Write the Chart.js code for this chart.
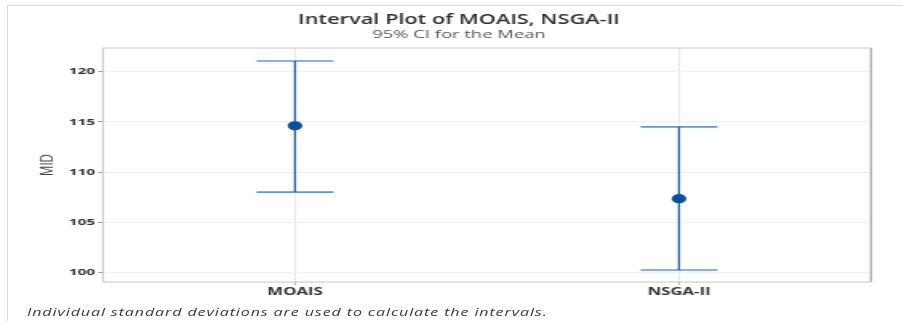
<!DOCTYPE html>
<html>
<head>
<meta charset="utf-8">
<script src="https://cdn.jsdelivr.net/npm/chart.js@4/dist/chart.umd.min.js"></script>
<style>
  html, body { margin: 0; padding: 0; background: #fff; }
  #wrap { position: relative; width: 903px; height: 321px; overflow: hidden; background: #fff; }
  #frame { position: absolute; left: 7px; top: 5px; width: 920px; height: 340px; border: 1px solid #dcdcdc; box-sizing: border-box; }
  #chart { position: absolute; left: 0; top: 0; transform: scaleX(1.6); transform-origin: 0 0; }
  #note { position: absolute; left: 27px; top: 304px; font: italic 11px "Open Sans", sans-serif; color: #3a3a3a;
          letter-spacing: 0.6px; white-space: nowrap; transform: scaleX(1.46); transform-origin: 0 0; }
</style>
</head>
<body>
<div id="wrap">
  <div id="frame"></div>
  <canvas id="chart" width="564" height="321"></canvas>
  <div id="note">Individual standard deviations are used to calculate the intervals.</div>
</div>
<script>
// Interval plot: mean and 95% confidence interval of MID for each method
const CATEGORIES = ['MOAIS', 'NSGA-II'];
const MEANS = [114.6, 107.35];
const LOWER = [108.0, 100.25];
const UPPER = [121.05, 114.5];
const Y_MIN = 99.05, Y_MAX = 122.35, Y_STEP = 5;

const CAP_HALF = 0.1;          // cap half-width in category units
const STEM = '#1f5aa6';
const CAP = '#6397ce';
const MEAN_FILL = '#0b4f9f';
const TITLE_SHIFT = 9.7;       // nudge titles to sit over the plot

const datasets = [];
CATEGORIES.forEach((c, i) => {
  [LOWER[i], UPPER[i]].forEach(v => datasets.push({
    data: [{x: i - CAP_HALF, y: v}, {x: i + CAP_HALF, y: v}],
    showLine: true, borderColor: CAP, borderWidth: 1.6, pointRadius: 0, order: 3
  }));
  datasets.push({
    data: [{x: i, y: LOWER[i]}, {x: i, y: UPPER[i]}],
    showLine: true, borderColor: STEM, borderWidth: 1.3, pointRadius: 0, order: 2
  });
});
datasets.push({
  data: CATEGORIES.map((c, i) => ({x: i, y: MEANS[i]})),
  showLine: false, pointRadius: 4.6, pointBackgroundColor: MEAN_FILL, pointBorderColor: MEAN_FILL,
  pointBorderWidth: 0, order: 1
});

const plotFrame = {
  id: 'plotFrame',
  afterLayout(chart) {
    chart.boxes.filter(b => b.position === 'top' && b.axis === undefined)
      .forEach(b => { b.left += TITLE_SHIFT; b.right += TITLE_SHIFT; });
  },
  beforeDatasetsDraw(chart) {
    const {ctx, chartArea: a} = chart;
    ctx.save();
    ctx.strokeStyle = '#c4c4c4';
    ctx.lineWidth = 1;
    ctx.beginPath();
    ctx.moveTo(a.left, a.bottom); ctx.lineTo(a.left, a.top); ctx.lineTo(a.right, a.top);
    ctx.moveTo(a.left, a.bottom); ctx.lineTo(a.right, a.bottom);
    ctx.stroke();
    ctx.strokeStyle = '#a8a8a8';
    ctx.lineWidth = 1.3;
    ctx.beginPath();
    ctx.moveTo(a.right, a.top); ctx.lineTo(a.right, a.bottom);
    ctx.stroke();
    ctx.restore();
  }
};

new Chart(document.getElementById('chart'), {
  type: 'scatter',
  data: { datasets },
  plugins: [plotFrame],
  options: {
    responsive: false,
    animation: false,
    events: [],
    layout: { padding: { top: 13, left: 10, right: 19.6, bottom: 0 } },
    plugins: {
      legend: { display: false },
      tooltip: { enabled: false },
      title: {
        display: true, text: 'Interval Plot of MOAIS, NSGA-II', color: '#2e2e2e',
        font: { family: 'Open Sans', size: 13.6, weight: '600', lineHeight: 1.1 },
        padding: { top: 0, bottom: 0 }
      },
      subtitle: {
        display: true, text: '95% CI for the Mean', color: '#555',
        font: { family: 'Open Sans', size: 11.5, weight: 'normal', lineHeight: 1.1 },
        padding: { top: 0, bottom: 7.4 }
      }
    },
    scales: {
      x: {
        type: 'linear', min: -0.5, max: 1.5,
        afterBuildTicks: s => { s.ticks = CATEGORIES.map((c, i) => ({ value: i })); },
        afterFit: s => { s.height = 39; },
        ticks: {
          callback: v => CATEGORIES[v], color: '#333', padding: 1, maxRotation: 0,
          font: { family: 'Open Sans', size: 10.5, weight: 'bold' }
        },
        grid: { color: '#dcdcdc', lineWidth: 0.7, tickLength: 3, tickColor: '#999', tickWidth: 0.7 },
        border: { display: false }
      },
      y: {
        min: Y_MIN, max: Y_MAX,
        afterFit: s => { s.width = 54.4; },
        ticks: {
          stepSize: Y_STEP, includeBounds: false, color: '#333', padding: 2,
          font: { family: 'Open Sans', size: 9.6, weight: 'bold' }
        },
        grid: { color: '#efefef', lineWidth: 1, tickLength: 3, tickColor: '#999' },
        border: { display: false },
        title: {
          display: true, text: 'MID', color: '#444', padding: { top: 13, bottom: 0 },
          font: { family: 'Open Sans', size: 11.5, weight: 'normal', lineHeight: 1.2 }
        }
      }
    }
  }
});
</script>
</body>
</html>
